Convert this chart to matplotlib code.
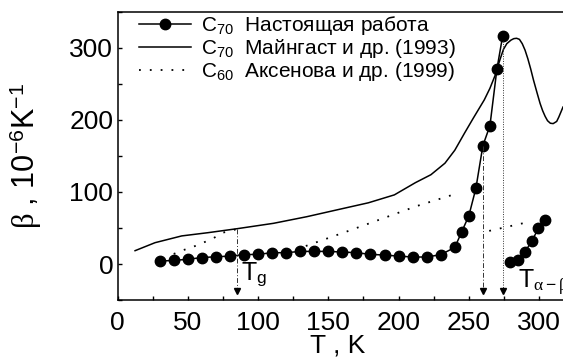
import numpy as np
import matplotlib
matplotlib.use('Agg')
import matplotlib.pyplot as plt
from matplotlib.ticker import MultipleLocator

plt.rcParams['font.family'] = ['Liberation Sans', 'DejaVu Sans']
plt.rcParams['mathtext.fontset'] = 'custom'
plt.rcParams['mathtext.rm'] = 'Liberation Sans'
plt.rcParams['mathtext.it'] = 'Liberation Serif'
plt.rcParams['mathtext.bf'] = 'Liberation Sans:bold'

# C70 present work (two branches)
T_work = [30, 40, 50, 60, 70, 80, 90, 100, 110, 120, 130, 140, 150, 160, 170, 180, 190, 200,
          210, 220, 230, 240, 245, 250, 255, 260, 265, 270, 274]
b_work = [4, 5, 6.5, 9, 10, 11, 13, 13.4, 15.7, 15.7, 17.5, 17.5, 17.5, 16.6, 15.7, 13.4, 12.4, 11,
          9.7, 9.7, 13, 23, 45, 67, 105, 164.5, 192, 271, 316]
T_work2 = [279.5, 285, 290, 295, 299.5, 304.5]
b_work2 = [3, 5.5, 17, 32.5, 49.5, 61]

# C70 Meingast et al. (1993)
T_mein = [12.5, 26.7, 45.7, 64.4, 85, 111, 134.7, 158, 178.5, 197, 212, 223, 233, 240, 247, 253,
          261, 265, 268.7, 272, 274.6, 277, 280, 282, 284, 286, 288, 290, 292, 294, 296, 298.5,
          300.7, 302.5, 304.3, 306, 308, 310, 312.5, 314, 315.5, 317]
b_mein = [18.5, 29.6, 39, 43.5, 49, 56.5, 65.7, 76, 85, 96, 113, 124, 140, 158, 182, 202,
          228, 244, 262, 283, 298, 306, 311, 313, 313.5, 312, 306, 297, 285, 271, 255.5, 238,
          223, 213, 205, 199, 195.5, 195, 198, 204, 211, 218]

# C60 Aksenova et al. (1999), three pieces
T_aks1 = [40, 47, 54, 61, 68, 75, 85]
b_aks1 = [14, 19.4, 24, 29.6, 35.6, 43.5, 48.5]
T_aks2 = [134, 163, 187, 213, 240]
b_aks2 = [25, 45, 62, 80.5, 97]
T_aks3 = [264.5, 294]
b_aks3 = [46, 59]

# transition marks
T_arrows = [85, 260, 274.5]
b_arrow_top = [48.5, 164.5, 310]
arrow_styles = [(0, (5, 2, 1, 2)), (0, (5, 2, 1, 2)), (0, (1, 1.5))]

fig = plt.figure(figsize=(5.63, 3.61), dpi=100)
ax = fig.add_axes([117.5 / 563, 1 - 300 / 361, 1 - 117.5 / 563, (300 - 12) / 361])

dots = (0, (1, 5))
ax.plot(T_work, b_work, color='black', lw=1.1, marker='o', ms=7.5,
        label=r'C$_{70}$  Настоящая работа')
ax.plot(T_work2, b_work2, color='black', lw=1.1, marker='o', ms=7.5)
ax.plot(T_mein, b_mein, color='black', lw=1.1, label=r'C$_{70}$  Майнгаст и др. (1993)')
ax.plot(T_aks1, b_aks1, color='black', lw=1.3, linestyle=dots,
        label=r'C$_{60}$  Аксенова и др. (1999)')
ax.plot(T_aks2, b_aks2, color='black', lw=1.3, linestyle=dots)
ax.plot(T_aks3, b_aks3, color='black', lw=1.3, linestyle=dots)

for t, top, st in zip(T_arrows, b_arrow_top, arrow_styles):
    ax.plot([t, t], [top, -36], color='#333333', lw=0.7, linestyle=st)
    ax.plot([t], [-38], marker='v', color='black', ms=4.5)

ax.text(88, 4, r'T$_\mathrm{g}$', fontsize=18, va='top', ha='left')
ax.text(285, -6, r'T$_{\alpha-\beta}$', fontsize=18, va='top', ha='left')

ax.set_xlim(0, 317)
ax.set_ylim(-50, 350)
ax.xaxis.set_major_locator(MultipleLocator(50))
ax.xaxis.set_minor_locator(MultipleLocator(25))
ax.yaxis.set_major_locator(MultipleLocator(100))
ax.yaxis.set_minor_locator(MultipleLocator(50))
ax.tick_params(which='both', direction='in', labelsize=19, width=1, top=False, right=False)
ax.tick_params(which='major', length=3)
ax.tick_params(which='minor', length=3)
ax.tick_params(axis='x', pad=8)
ax.tick_params(axis='y', pad=3)
ax.spines['right'].set_visible(False)
for s in ['left', 'bottom', 'top']:
    ax.spines[s].set_linewidth(1.1)

ax.set_xlabel('T , K', fontsize=19)
ax.xaxis.set_label_coords(0.493, -0.115)
ax.set_ylabel(r'$\beta$ , 10$^{-6}$K$^{-1}$', fontsize=22)
ax.yaxis.set_label_coords(-0.165, 0.5)

ax.legend(loc='upper left', bbox_to_anchor=(0.02, 1.035), frameon=False, fontsize=15,
          handlelength=2.5, handletextpad=0.5, labelspacing=0.0, borderaxespad=0.2)

plt.savefig('out.png', dpi=100)
